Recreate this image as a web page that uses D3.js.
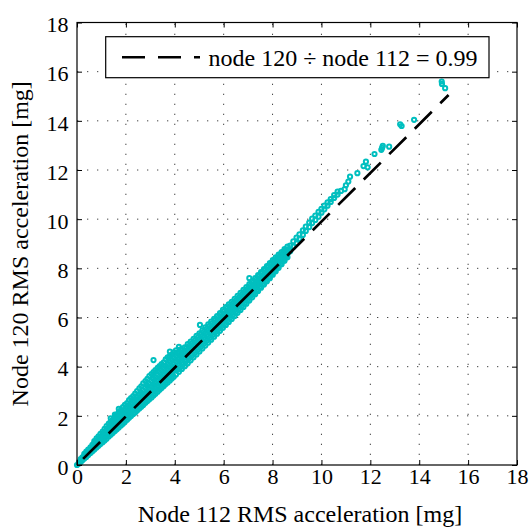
<!DOCTYPE html>
<html>
<head>
<meta charset="utf-8">
<script src="https://cdn.jsdelivr.net/npm/d3@7/dist/d3.min.js"></script>
<style>
  html, body { margin: 0; padding: 0; background: #fff; }
  svg { display: block; }
  text { font-family: "Liberation Serif", "DejaVu Serif", serif; fill: #000; }
</style>
</head>
<body>
<svg id="chart" width="529" height="527"></svg>
<script>
// RMS acceleration pairs [node 112, node 120] in mg, grouped by range
const lowBand = [
  [0.00,0.00],[0.08,0.06],[0.08,0.12],[0.15,0.12],[0.15,0.18],[0.15,0.24],
  [0.22,0.19],[0.22,0.24],[0.22,0.31],[0.30,0.26],[0.30,0.31],[0.30,0.38],[0.30,0.45],
  [0.38,0.33],[0.38,0.40],[0.38,0.47],[0.38,0.55],[0.46,0.41],[0.46,0.47],[0.46,0.55],[0.46,0.63],
  [0.55,0.49],[0.55,0.56],[0.55,0.63],[0.55,0.72],[0.63,0.56],[0.63,0.64],[0.63,0.72],[0.63,0.82],
  [0.71,0.63],[0.71,0.71],[0.71,0.80],[0.71,0.90],[0.71,0.97],
  [0.80,0.71],[0.80,0.79],[0.80,0.88],[0.80,0.98],[0.80,1.08],
  [0.88,0.78],[0.88,0.87],[0.88,0.96],[0.88,1.06],[0.88,1.17],
  [0.96,0.85],[0.96,0.95],[0.96,1.04],[0.96,1.15],[0.96,1.27],
  [1.05,0.93],[1.05,1.03],[1.05,1.13],[1.05,1.24],[1.05,1.36],
  [1.13,1.00],[1.13,1.11],[1.13,1.22],[1.13,1.33],[1.13,1.47],
  [1.21,1.07],[1.21,1.19],[1.21,1.30],[1.21,1.42],[1.21,1.58],
  [1.30,1.16],[1.30,1.27],[1.30,1.39],[1.30,1.52],[1.30,1.68],
  [1.38,1.23],[1.38,1.35],[1.38,1.47],[1.38,1.61],[1.38,1.77],[1.38,1.90],
  [1.46,1.30],[1.46,1.42],[1.46,1.55],[1.46,1.69],[1.46,1.84],
  [1.55,1.38],[1.55,1.51],[1.55,1.64],[1.55,1.79],[1.55,1.96],[1.55,2.05],
  [1.63,1.45],[1.63,1.59],[1.63,1.73],[1.63,1.88],[1.63,2.05],
  [1.71,1.53],[1.71,1.67],[1.71,1.81],[1.71,1.97],[1.71,2.15],[1.71,2.28],
  [1.80,1.61],[1.80,1.75],[1.80,1.90],[1.80,2.06],[1.80,2.24],
  [1.88,1.68],[1.88,1.83],[1.88,1.98],[1.88,2.15],[1.88,2.36],
  [1.96,1.76],[1.96,1.91],[1.96,2.07],[1.96,2.24],[1.96,2.45],
  [2.05,1.84],[2.05,2.00],[2.05,2.16],[2.05,2.33],[2.05,2.52],
  [2.13,1.92],[2.13,2.08],[2.13,2.24],[2.13,2.42],[2.13,2.64],
  [2.21,1.99],[2.21,2.15],[2.21,2.32],[2.21,2.50],[2.21,2.72],
  [2.30,2.07],[2.30,2.24],[2.30,2.41],[2.30,2.60],[2.30,2.80],
  [2.38,2.14],[2.38,2.31],[2.38,2.49],[2.38,2.68],[2.38,2.90],
  [2.46,2.22],[2.46,2.39],[2.46,2.58],[2.46,2.77],[2.46,3.01],
  [2.55,2.30],[2.55,2.48],[2.55,2.67],[2.55,2.87],[2.55,3.12],
  [2.63,2.37],[2.63,2.56],[2.63,2.75],[2.63,2.95],[2.63,3.20],
  [2.71,2.44],[2.71,2.63],[2.71,2.83],[2.71,3.04],[2.71,3.32],
  [2.80,2.53],[2.80,2.72],[2.80,2.92],[2.80,3.14],[2.80,3.41],
  [2.88,2.60],[2.88,2.80],[2.88,3.00],[2.88,3.22],[2.88,3.50],
  [2.96,2.67],[2.96,2.88],[2.96,3.09],[2.96,3.31],[2.96,3.62],
  [3.05,2.75],[3.05,2.96],[3.05,3.18],[3.05,3.41],[3.05,3.70],
  [3.13,2.83],[3.13,3.04],[3.13,3.26],[3.13,3.50],[3.13,3.78],[3.13,4.27],
  [3.21,2.90],[3.21,3.12],[3.21,3.34],[3.21,3.58],[3.21,3.86],
  [3.30,2.98],[3.30,3.21],[3.30,3.43],[3.30,3.67],[3.30,3.95],
  [3.38,3.06],[3.38,3.29],[3.38,3.52],[3.38,3.76],[3.38,4.02],
  [3.46,3.13],[3.46,3.36],[3.46,3.60],[3.46,3.84],[3.46,4.10],
  [3.55,3.21],[3.55,3.45],[3.55,3.69],[3.55,3.93],[3.55,4.18],
  [3.63,3.29],[3.63,3.53],[3.63,3.77],[3.63,4.02],[3.63,4.30],
  [3.71,3.36],[3.71,3.61],[3.71,3.85],[3.71,4.10],[3.71,4.38],
  [3.80,3.44],[3.80,3.69],[3.80,3.94],[3.80,4.19],[3.80,4.43],[3.80,4.61],
  [3.88,3.52],[3.88,3.77],[3.88,4.02],[3.88,4.27],[3.88,4.50],
  [3.96,3.59],[3.96,3.85],[3.96,4.10],[3.96,4.35],[3.96,4.58]
];

const midBand = [
  [4.05,3.68],[4.05,3.94],[4.05,4.19],[4.05,4.43],[4.05,4.66],
  [4.17,3.79],[4.17,4.05],[4.17,4.31],[4.17,4.55],[4.17,4.81],
  [4.29,3.91],[4.29,4.17],[4.29,4.42],[4.29,4.66],
  [4.41,4.02],[4.41,4.29],[4.41,4.54],[4.41,4.79],
  [4.53,4.14],[4.53,4.41],[4.53,4.66],[4.53,4.92],
  [4.65,4.26],[4.65,4.52],[4.65,4.78],[4.65,5.02],
  [4.77,4.38],[4.77,4.64],[4.77,4.89],[4.77,5.13],
  [4.89,4.50],[4.89,4.76],[4.89,5.01],[4.89,5.25],
  [5.01,4.62],[5.01,4.88],[5.01,5.12],[5.01,5.36],[5.03,5.70],
  [5.13,4.74],[5.13,5.00],[5.13,5.24],[5.13,5.48],
  [5.25,4.86],[5.25,5.12],[5.25,5.36],[5.25,5.60],
  [5.37,4.98],[5.37,5.24],[5.37,5.48],[5.37,5.72],
  [5.49,5.10],[5.49,5.36],[5.49,5.59],[5.49,5.83],
  [5.61,5.22],[5.61,5.48],[5.61,5.71],[5.61,5.95],
  [5.73,5.34],[5.73,5.60],[5.73,5.83],[5.73,6.06],
  [5.85,5.46],[5.85,5.71],[5.85,5.95],[5.85,6.18],
  [5.97,5.58],[5.97,5.83],[5.97,6.07],[5.97,6.31],
  [6.09,5.70],[6.09,5.95],[6.09,6.18],[6.09,6.42],
  [6.21,5.82],[6.21,6.07],[6.21,6.30],[6.21,6.53],
  [6.33,5.94],[6.33,6.19],[6.33,6.42],[6.33,6.64],
  [6.45,6.06],[6.45,6.31],[6.45,6.53],[6.45,6.76],
  [6.57,6.19],[6.57,6.43],[6.57,6.65],[6.57,6.88],
  [6.69,6.31],[6.69,6.55],[6.69,6.77],[6.69,7.00],
  [6.81,6.43],[6.81,6.67],[6.81,6.89],[6.81,7.12],
  [6.93,6.56],[6.93,6.79],[6.93,7.01],[6.93,7.24],
  [7.05,6.69],[7.05,6.92],[7.05,7.14],[7.05,7.36],[7.05,7.60],
  [7.17,6.82],[7.17,7.04],[7.17,7.26],[7.17,7.48],
  [7.29,6.95],[7.29,7.17],[7.29,7.38],[7.29,7.60],
  [7.41,7.08],[7.41,7.30],[7.41,7.51],[7.41,7.72],
  [7.53,7.21],[7.53,7.43],[7.53,7.64],[7.53,7.85],
  [7.65,7.34],[7.65,7.55],[7.65,7.76],[7.65,7.97],
  [7.77,7.47],[7.77,7.68],[7.77,7.88],[7.77,8.09],
  [7.89,7.60],[7.89,7.80],[7.89,8.00],[7.89,8.21],
  [8.01,7.74],[8.01,7.93],[8.01,8.13],[8.01,8.34],
  [8.13,7.88],[8.13,8.06],[8.13,8.25],[8.13,8.45],
  [8.25,8.02],[8.25,8.20],[8.25,8.38],[8.25,8.56],
  [8.37,8.17],[8.37,8.33],[8.37,8.50],[8.37,8.66],
  [8.49,8.31],[8.49,8.46],[8.49,8.62],[8.49,8.78],
  [8.61,8.45],[8.61,8.59],[8.61,8.74],[8.61,8.88]
];

const midBandInner = [
  [4.11,3.87],[4.11,4.12],[4.11,4.37],[4.11,4.58],
  [4.23,3.98],[4.23,4.24],[4.23,4.49],[4.23,4.70],
  [4.35,4.10],[4.35,4.36],[4.35,4.60],
  [4.47,4.22],[4.47,4.48],[4.47,4.73],
  [4.59,4.34],[4.59,4.60],[4.59,4.85],
  [4.71,4.45],[4.71,4.71],[4.71,4.96],
  [4.83,4.57],[4.83,4.83],[4.83,5.07],
  [4.95,4.69],[4.95,4.95],[4.95,5.19],
  [5.07,4.81],[5.07,5.06],[5.07,5.30],
  [5.19,4.93],[5.19,5.18],[5.19,5.42],
  [5.31,5.05],[5.31,5.30],[5.31,5.54],
  [5.43,5.17],[5.43,5.42],[5.43,5.66],
  [5.55,5.29],[5.55,5.54],[5.55,5.77],
  [5.67,5.41],[5.67,5.66],[5.67,5.89],
  [5.79,5.53],[5.79,5.78],[5.79,6.00],
  [5.91,5.64],[5.91,5.89],[5.91,6.12],
  [6.03,5.76],[6.03,6.01],[6.03,6.25],
  [6.15,5.88],[6.15,6.12],[6.15,6.36],
  [6.27,6.00],[6.27,6.24],[6.27,6.47],
  [6.39,6.12],[6.39,6.36],[6.39,6.59],
  [6.51,6.24],[6.51,6.48],[6.51,6.70],
  [6.63,6.37],[6.63,6.60],[6.63,6.82],
  [6.75,6.49],[6.75,6.72],[6.75,6.94],
  [6.87,6.61],[6.87,6.84],[6.87,7.06],
  [6.99,6.74],[6.99,6.96],[6.99,7.18],
  [7.11,6.87],[7.11,7.09],[7.11,7.31],
  [7.23,6.99],[7.23,7.21],[7.23,7.43],
  [7.35,7.12],[7.35,7.34],[7.35,7.55],
  [7.47,7.25],[7.47,7.47],[7.47,7.68],
  [7.59,7.38],[7.59,7.60],[7.59,7.81],
  [7.71,7.51],[7.71,7.72],[7.71,7.93],
  [7.83,7.64],[7.83,7.84],[7.83,8.05],
  [7.95,7.76],[7.95,7.96],[7.95,8.17],
  [8.07,7.90],[8.07,8.09],[8.07,8.30],
  [8.19,8.03],[8.19,8.22],[8.19,8.41],
  [8.31,8.17],[8.31,8.35],[8.31,8.53],
  [8.43,8.31],[8.43,8.48],[8.43,8.64],
  [8.55,8.44],[8.55,8.60],[8.55,8.76]
];

const highTrail = [
  [8.72,8.70],[8.72,8.92],[8.85,8.88],[8.85,9.10],[8.98,9.02],[8.98,9.25],
  [9.10,9.20],[9.10,9.38],[9.24,9.36],[9.24,9.55],[9.36,9.52],[9.36,9.70],
  [9.50,9.68],[9.50,9.86],[9.62,9.84],[9.62,10.02],[9.75,9.97],[9.75,10.15],
  [9.88,10.10],[9.88,10.30],[10.00,10.26],[10.00,10.42],[10.12,10.40],[10.12,10.55],
  [10.25,10.55],[10.25,10.68],[10.38,10.70],[10.38,10.82],[10.52,10.86],[10.52,10.98],
  [10.66,11.00],[10.66,11.12],[10.80,11.15],[10.95,11.22],[11.00,11.38],[11.10,11.53],
  [11.17,11.73],[11.47,11.87],[11.72,12.16],[11.82,12.34],[11.89,12.11],[12.17,12.65],
  [12.45,12.82],[12.48,12.90],[12.51,12.98],[12.77,12.95],[13.22,13.86],[13.28,13.79],
  [13.79,14.04],[14.92,15.60],[14.93,15.50],[15.06,15.33]
];

// least-squares ratio node 120 / node 112 and the span it is drawn over
const fitRatio = 0.99;
const fitRange = [0.25, 15.2];
const legendLabel = "node 120 \u00f7 node 112 = 0.99";

const xTicks = [0, 2, 4, 6, 8, 10, 12, 14, 16, 18];
const yTicks = [0, 2, 4, 6, 8, 10, 12, 14, 16, 18];
const xTitle = "Node 112 RMS acceleration [mg]";
const yTitle = "Node 120 RMS acceleration [mg]";

const FONT = '"Liberation Serif", "DejaVu Serif", serif';
const svg = d3.select("#chart");
const plotLeft = 77, plotRight = 517, plotTop = 22.5, plotBottom = 465;

const x = d3.scaleLinear().domain([0, 18]).range([plotLeft, plotRight]);
const y = d3.scaleLinear().domain([0, 18]).range([plotBottom, plotTop]);

// dotted grid
const grid = svg.append("g").attr("stroke", "#444").attr("stroke-width", 1)
  .attr("stroke-dasharray", "1.3,8.7");
grid.selectAll("line.gx").data(xTicks.slice(1, -1)).join("line")
  .attr("x1", d => x(d)).attr("x2", d => x(d)).attr("y1", plotBottom).attr("y2", plotTop);
grid.selectAll("line.gy").data(yTicks.slice(1, -1)).join("line")
  .attr("y1", d => y(d)).attr("y2", d => y(d)).attr("x1", plotLeft).attr("x2", plotRight);

// scatter
const allPoints = lowBand.concat(midBand, midBandInner, highTrail);
svg.append("g").selectAll("circle").data(allPoints).join("circle")
  .attr("cx", d => x(d[0])).attr("cy", d => y(d[1])).attr("r", 2.1)
  .attr("fill", "none").attr("stroke", "#00bfbf").attr("stroke-width", 2);

// fitted line
svg.append("line")
  .attr("x1", x(fitRange[0])).attr("y1", y(fitRange[0] * fitRatio))
  .attr("x2", x(fitRange[1])).attr("y2", y(fitRange[1] * fitRatio))
  .attr("stroke", "#000").attr("stroke-width", 2.7)
  .attr("stroke-dasharray", "24,12");

// axes with inward ticks on all four sides
const tickLen = 5;
const fmt = d3.format("d");
const axB = svg.append("g").attr("transform", `translate(0,${plotBottom})`)
  .call(d3.axisBottom(x).tickValues(xTicks).tickSizeInner(-tickLen).tickSizeOuter(0).tickFormat(fmt));
const axT = svg.append("g").attr("transform", `translate(0,${plotTop})`)
  .call(d3.axisTop(x).tickValues(xTicks).tickSizeInner(-tickLen).tickSizeOuter(0).tickFormat(""));
const axL = svg.append("g").attr("transform", `translate(${plotLeft},0)`)
  .call(d3.axisLeft(y).tickValues(yTicks).tickSizeInner(-tickLen).tickSizeOuter(0).tickFormat(fmt));
const axR = svg.append("g").attr("transform", `translate(${plotRight},0)`)
  .call(d3.axisRight(y).tickValues(yTicks).tickSizeInner(-tickLen).tickSizeOuter(0).tickFormat(""));
[axB, axT, axL, axR].forEach(a => {
  a.attr("font-family", FONT);
  a.select(".domain").remove();
  a.selectAll(".tick line").attr("stroke", "#000").attr("stroke-width", 1);
  a.selectAll("text").attr("font-size", 22).attr("fill", "#000");
});
axB.selectAll("text").attr("y", 19).attr("dy", 0);
axL.selectAll("text").attr("x", -8.5).attr("dy", "0.42em");

svg.append("rect").attr("x", plotLeft).attr("y", plotTop)
  .attr("width", plotRight - plotLeft).attr("height", plotBottom - plotTop)
  .attr("fill", "none").attr("stroke", "#000").attr("stroke-width", 1.2);

// axis titles
svg.append("text").attr("x", 300).attr("y", 521.5)
  .attr("text-anchor", "middle").attr("font-size", 24).text(xTitle);
svg.append("text").attr("transform", `translate(28,${(plotTop + plotBottom) / 2}) rotate(-90)`)
  .attr("text-anchor", "middle").attr("font-size", 24).text(yTitle);

// legend
const lg = svg.append("g");
lg.append("rect").attr("x", 105.7).attr("y", 36.7).attr("width", 383.3).attr("height", 41)
  .attr("fill", "#fff").attr("stroke", "#000").attr("stroke-width", 1.2);
lg.append("line").attr("x1", 122).attr("x2", 200).attr("y1", 57.3).attr("y2", 57.3)
  .attr("stroke", "#000").attr("stroke-width", 2.6).attr("stroke-dasharray", "23,13");
lg.append("text").attr("x", 208.5).attr("y", 66).attr("font-size", 24).text(legendLabel);
</script>
</body>
</html>
